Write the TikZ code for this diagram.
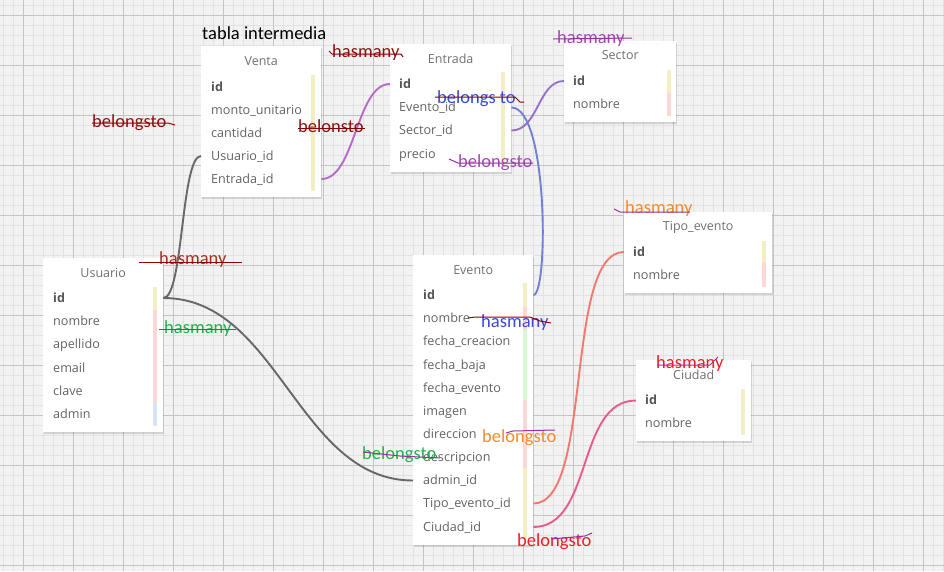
\documentclass[tikz,border=0pt]{standalone}
\usepackage{fontspec}
\setmainfont{Open Sans}
\newfontfamily\annot{Carlito}
\usetikzlibrary{shadows,calc}
\definecolor{bg}{HTML}{F2F2F2}
\definecolor{minorc}{HTML}{E2E2E2}
\definecolor{majorc}{HTML}{C4C4C4}
\definecolor{titlec}{HTML}{707070}
\definecolor{rowc}{HTML}{636363}
\definecolor{idc}{HTML}{555555}
\definecolor{baryel}{HTML}{F3EFC2}
\definecolor{barpink}{HTML}{FCD7D5}
\definecolor{bargreen}{HTML}{D6F8D2}
\definecolor{barblue}{HTML}{D8E4F8}
\definecolor{cgray}{HTML}{686868}
\definecolor{cpurple}{HTML}{B86ACB}
\definecolor{cviolet}{HTML}{9670CC}
\definecolor{cblue}{HTML}{7480D0}
\definecolor{csalmon}{HTML}{F4786E}
\definecolor{cpink}{HTML}{E95B8A}
\definecolor{adred}{HTML}{8E1111}
\definecolor{abrown}{HTML}{A3321E}
\definecolor{ablue}{HTML}{3C48D8}
\definecolor{apurple}{HTML}{A34AB0}
\definecolor{aorange}{HTML}{F58C2E}
\definecolor{agreen}{HTML}{22B24C}
\definecolor{ared}{HTML}{ED1C24}
\definecolor{spurple}{HTML}{9B30A0}
\definecolor{sdred}{HTML}{8B0000}
\begin{document}
\begin{tikzpicture}[x=1pt,y=-1pt,
  tbl/.style={fill=white, anchor=north west, inner sep=0pt,
    drop shadow={shadow xshift=1pt, shadow yshift=-1.5pt, fill=black, opacity=0.13}},
  ttl/.style={font=\fontsize{12.5}{14}\selectfont, text=titlec, inner sep=0pt},
  rowtxt/.style={anchor=west, font=\fontsize{12.6}{14}\selectfont, text=rowc, inner sep=0pt, text height=10pt, text depth=2pt},
  idtxt/.style={rowtxt, font=\fontsize{12.6}{14}\selectfont\bfseries, text=idc},
  conn/.style={line width=1.9pt},
  ann/.style={anchor=base west, font=\annot\fontsize{18.5}{20}\selectfont, inner sep=0pt},
  strk/.style={line width=1pt}
]
\useasboundingbox (0,0) rectangle (944,571);
\fill[bg] (0,0) rectangle (944,571);
\foreach \i in {0,...,94} \draw[minorc, line width=1pt] (3+10*\i,0) -- (3+10*\i,571);
\foreach \i in {0,...,56} \draw[minorc, line width=1pt] (0,5+10*\i) -- (944,5+10*\i);
\foreach \i in {0,...,18} \draw[majorc, line width=1pt] (23+50*\i,0) -- (23+50*\i,571);
\foreach \i in {0,...,11} \draw[majorc, line width=1pt] (0,15+50*\i) -- (944,15+50*\i);

% ---------- tables ----------
\node[tbl, minimum width=120pt, minimum height=151pt] (venta) at (201,46) {};
\node[tbl, minimum width=121pt, minimum height=128pt] (entrada) at (390,44) {};
\node[tbl, minimum width=112pt, minimum height=81pt] (sector) at (564,41) {};
\node[tbl, minimum width=148pt, minimum height=81pt] (tipo) at (624,212) {};
\node[tbl, minimum width=115pt, minimum height=81pt] (ciudad) at (636,360) {};
\node[tbl, minimum width=120pt, minimum height=174pt] (usuario) at (43,258) {};
\node[tbl, minimum width=120pt, minimum height=290pt] (evento) at (413,255) {};

% bars
\fill[baryel] (311,75) rectangle (315,191);
\fill[baryel] (501,72) rectangle (505,167);
\fill[baryel] (667,70) rectangle (671,93);
\fill[barpink] (667,93) rectangle (671,116);
\fill[baryel] (762,241) rectangle (766,263);
\fill[barpink] (762,263) rectangle (766,287);
\fill[baryel] (741,389) rectangle (745,435);
\fill[baryel] (153,287) rectangle (157,310);
\fill[barpink] (153,310) rectangle (157,403);
\fill[barblue] (153,403) rectangle (157,426);
\fill[baryel] (523,283) rectangle (527,307);
\fill[barpink] (523,307) rectangle (527,330);
\fill[bargreen] (523,330) rectangle (527,400);
\fill[barpink] (523,400) rectangle (527,468);
\fill[baryel] (523,468) rectangle (527,539);

% titles
\node[ttl] (ventaT) at ($(venta.north)+(0,15)$) {Venta};
\node[ttl] (entradaT) at ($(entrada.north)+(0,15)$) {Entrada};
\node[ttl] (sectorT) at ($(sector.north)+(0,14.5)$) {Sector};
\node[ttl] (tipoT) at ($(tipo.north)+(0,15)$) {Tipo\_evento};
\node[ttl] (ciudadT) at ($(ciudad.north)+(0,15)$) {Ciudad};
\node[ttl] (usuarioT) at ($(usuario.north)+(0,14.5)$) {Usuario};
\node[ttl] (eventoT) at ($(evento.north)+(0,15)$) {Evento};

% Venta rows
\node[idtxt] (v1) at (211,87) {id};
\node[rowtxt] (v2) at (211,110) {monto\_unitario};
\node[rowtxt] (v3) at (211,133) {cantidad};
\node[rowtxt] (v4) at (211,156) {Usuario\_id};
\node[rowtxt] (v5) at (211,179) {Entrada\_id};
% Entrada rows
\node[idtxt] (e1) at (399,84) {id};
\node[rowtxt] (e2) at (399,107.5) {Evento\_id};
\node[rowtxt] (e3) at (399,130.5) {Sector\_id};
\node[rowtxt] (e4) at (399,154.5) {precio};
% Sector rows
\node[idtxt] (s1) at (573,81) {id};
\node[rowtxt] (s2) at (573,104) {nombre};
% Tipo rows
\node[idtxt] (t1) at (633,252) {id};
\node[rowtxt] (t2) at (633,275.5) {nombre};
% Ciudad rows
\node[idtxt] (c1) at (645,400.5) {id};
\node[rowtxt] (c2) at (645,423.5) {nombre};
% Usuario rows
\node[idtxt] (u1) at (53,298) {id};
\node[rowtxt] (u2) at (53,321.5) {nombre};
\node[rowtxt] (u3) at (53,344.5) {apellido};
\node[rowtxt] (u4) at (53,368) {email};
\node[rowtxt] (u5) at (53,391) {clave};
\node[rowtxt] (u6) at (53,414) {admin};
% Evento rows
\node[idtxt] (ev1) at (423,295) {id};
\node[rowtxt] (ev2) at (423,318.5) {nombre};
\node[rowtxt] (ev3) at (423,341.5) {fecha\_creacion};
\node[rowtxt] (ev4) at (423,365) {fecha\_baja};
\node[rowtxt] (ev5) at (423,388) {fecha\_evento};
\node[rowtxt] (ev6) at (423,411.5) {imagen};
\node[rowtxt] (ev7) at (423,434.5) {direccion};
\node[rowtxt] (ev8) at (423,457.5) {descripcion};
\node[rowtxt] (ev9) at (423,480.5) {admin\_id};
\node[rowtxt] (ev10) at (423,503.5) {Tipo\_evento\_id};
\node[rowtxt] (ev11) at (423,527) {Ciudad\_id};

% ---------- connectors ----------
\draw[conn, cgray] (venta.west |- v4) .. controls +(-20,0) and +(20,0) .. (usuario.east |- u1);
\draw[conn, cgray] (usuario.east |- u1) .. controls +(115,0) and +(-115,0) .. (evento.west |- ev9);
\draw[conn, cpurple] (venta.east |- v5) .. controls +(34,0) and +(-34,0) .. (entrada.west |- e1);
\draw[conn, cviolet] (entrada.east |- e3) .. controls +(27,0) and +(-26,0) .. (sector.west |- s1);
\draw[conn, cblue] (entrada.east |- e2) .. controls +(37,0) and +(15,0) .. (evento.east |- ev1);
\draw[conn, csalmon] (evento.east |- ev10) .. controls +(60,0) and +(-60,0) .. (tipo.west |- t1);
\draw[conn, cpink] (evento.east |- ev11) .. controls +(60,0) and +(-60,0) .. (ciudad.west |- c1);

% ---------- annotations ----------
\node[ann, text=black] (a0) at (202,39.5) {tabla intermedia};

\node[ann, text=adred] (a1) at (332,57.5) {hasmany};
\draw[strk, sdred] (329,51) -- (332,54) -- (401,54) -- (403,57);

\node[ann, text=adred] (a2) at (92,127) {belongsto};
\draw[strk, sdred] (92,123) -- (168,123) -- (175,125);

\node[ann, text=adred] (a3) at (298,132.5) {belonsto};
\draw[strk, sdred] (298,128) -- (365,128);

\node[ann, text=ablue] (a4) at (437,103) {belongs to};
\draw[strk, sdred] (435,97) -- (515,97) -- (520,102) -- (524,102);

\node[ann, text=apurple] (a5) at (458,167) {belongsto};
\draw[strk, spurple] (449,159) -- (458,163) -- (533,163);

\node[ann, text=apurple] (a6) at (557,43.5) {hasmany};
\draw[strk, spurple] (553,39) -- (632,38);

\node[ann, text=aorange] (a7) at (625,213.5) {hasmany};
\draw[strk, spurple] (614,209) -- (620,212) -- (690,212);

\node[ann, text=abrown] (a8) at (159,264) {hasmany};
\draw[strk, sdred] (139,262) -- (242,262);

\node[ann, text=agreen] (a9) at (164,333) {hasmany};
\draw[strk, spurple] (159,329) -- (236,329);

\node[ann, text=ablue] (a10) at (481,327.5) {hasmany};
\draw[strk, sdred] (468,318) -- (475,317) -- (530,317) -- (540,321) -- (551,323);

\node[ann, text=aorange] (a11) at (482,442.5) {belongsto};
\draw[strk, spurple] (506,433) -- (513,431) -- (555,430);

\node[ann, text=agreen] (a12) at (362,459.5) {belongsto};
\draw[strk, spurple] (363,452) -- (400,456) -- (440,458);

\node[ann, text=ared] (a13) at (656,368.5) {hasmany};
\draw[strk, spurple] (657,365) -- (710,365) -- (718,357);

\node[ann, text=ared] (a14) at (517,546.5) {belongsto};
\draw[strk, spurple] (551,539) -- (585,536) -- (592,533);
\end{tikzpicture}
\end{document}
